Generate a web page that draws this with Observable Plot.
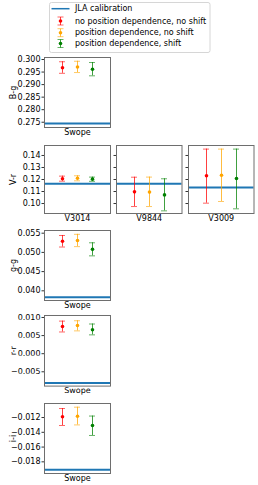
<!DOCTYPE html>
<html>
<head>
<meta charset="utf-8">
<script src="https://cdn.jsdelivr.net/npm/d3@7"></script>
<script src="https://cdn.jsdelivr.net/npm/@observablehq/plot@0.6"></script>
<style>
  html, body { margin: 0; padding: 0; background: white; }
  #root { position: relative; width: 258px; height: 485px; overflow: hidden; font-family: "DejaVu Sans", sans-serif; }
  #root svg { position: absolute; overflow: visible; }
</style>
</head>
<body>
<div id="root"></div>
<script>
// ---------- data ----------
const seriesNames = ["no position dependence, no shift", "position dependence, no shift", "position dependence, shift"];
const seriesColors = ["red", "orange", "green"];
const jlaLabel = "JLA calibration";

const colorLabels = ["B-g", "V-r", "V-r", "V-r", "g-g", "r-r", "i-i"];
const telescopes  = ["Swope", "V3014", "V9844", "V3009", "Swope", "Swope", "Swope"];
const jla = [0.2745, 0.1164, 0.1164, 0.1133, 0.03835, -0.00812, -0.01908];

const centerRed    = [0.2967, 0.1206, 0.1097, 0.1231, 0.0529, 0.00752, -0.01190];
const lowRed       = [0.2945, 0.1186, 0.0975, 0.1003, 0.0514, 0.00600, -0.01308];
const highRed      = [0.2991, 0.1228, 0.1219, 0.1453, 0.0544, 0.00900, -0.01078];
const centerOrange = [0.2970, 0.1210, 0.1095, 0.1235, 0.0531, 0.00780, -0.01182];
const lowOrange    = [0.2948, 0.1189, 0.0975, 0.1017, 0.0515, 0.00630, -0.01300];
const highOrange   = [0.2993, 0.1231, 0.1220, 0.1453, 0.0547, 0.00910, -0.01060];
const centerGreen  = [0.2961, 0.1203, 0.1072, 0.1208, 0.0508, 0.00660, -0.01308];
const lowGreen     = [0.2935, 0.1185, 0.0939, 0.0956, 0.0491, 0.00520, -0.01443];
const highGreen    = [0.2988, 0.1220, 0.1206, 0.1453, 0.0525, 0.00820, -0.01180];

const ticksBg = [0.275, 0.280, 0.285, 0.290, 0.295, 0.300];
const ticksVr = [0.10, 0.11, 0.12, 0.13, 0.14];
const ticksGg = [0.040, 0.045, 0.050, 0.055];
const ticksRr = [-0.005, 0.000, 0.005, 0.010];
const ticksIi = [-0.018, -0.016, -0.014, -0.012];

// ---------- layout ----------
const centers = [centerRed, centerOrange, centerGreen];
const lows = [lowRed, lowOrange, lowGreen];
const highs = [highRed, highOrange, highGreen];

const panelLayout = [
  {left: 44,    top: 57,    w: 66,   h: 70,   domain: [0.2729, 0.3008],   ticks: ticksBg, fmt: ".3f", labels: true,  ylabel: true},
  {left: 44,    top: 144.7, w: 66,   h: 68,   domain: [0.0917, 0.1483],   ticks: ticksVr, fmt: ".2f", labels: true,  ylabel: true},
  {left: 116.3, top: 144.7, w: 65.5, h: 68,   domain: [0.0917, 0.1483],   ticks: ticksVr, fmt: ".2f", labels: false, ylabel: false},
  {left: 188,   top: 144.7, w: 65.5, h: 68,   domain: [0.0917, 0.1483],   ticks: ticksVr, fmt: ".2f", labels: false, ylabel: false},
  {left: 44,    top: 229.7, w: 66,   h: 70,   domain: [0.03748, 0.0557],  ticks: ticksGg, fmt: ".3f", labels: true,  ylabel: true},
  {left: 44,    top: 314.7, w: 66,   h: 70.6, domain: [-0.00895, 0.01055], ticks: ticksRr, fmt: ".3f", labels: true, ylabel: true},
  {left: 44,    top: 402.7, w: 66,   h: 70,   domain: [-0.01958, -0.0101], ticks: ticksIi, fmt: ".3f", labels: true, ylabel: true}
];

const root = document.getElementById("root");
const font = '"DejaVu Sans", sans-serif';

panelLayout.forEach((L, i) => {
  const mt = 10, mb = 16, ml = 44, mr = 4;
  const pts = [0, 1, 2].map(k => ({
    k: String(k), v: centers[k][i], lo: lows[k][i], hi: highs[k][i], c: seriesColors[k]
  }));
  const marks = [
    Plot.ruleY([jla[i]], {stroke: "#1f77b4", strokeWidth: 2}),
    Plot.ruleX(pts, {x: "k", y1: "lo", y2: "hi", stroke: "c", strokeOpacity: 0.75, strokeWidth: 1}),
    Plot.tickY(pts, {x: "k", y: "lo", stroke: "c", strokeOpacity: 0.6, strokeWidth: 1}),
    Plot.tickY(pts, {x: "k", y: "hi", stroke: "c", strokeOpacity: 0.6, strokeWidth: 1}),
    Plot.dot(pts, {x: "k", y: "v", fill: "c", r: 1.8}),
    Plot.axisY({
      ticks: L.ticks,
      tickFormat: L.labels ? d3.format(L.fmt) : () => "",
      tickSize: 2.5, tickPadding: 1.5, fontSize: 8, label: null, stroke: "#333"
    }),
    Plot.frame({stroke: "#6e6e6e", strokeWidth: 1}),
    Plot.text([telescopes[i]], {frameAnchor: "bottom", lineAnchor: "top", dy: 1.5, fontSize: 8, fill: "black"})
  ];
  if (L.ylabel) {
    marks.push(Plot.text([colorLabels[i]], {frameAnchor: "left", rotate: -90, dx: -31, fontSize: 8, fill: "black", textAnchor: "middle", lineAnchor: "middle"}));
  }
  const svg = Plot.plot({
    width: ml + L.w + mr,
    height: mt + L.h + mb,
    marginLeft: ml, marginRight: mr, marginTop: mt, marginBottom: mb,
    style: {fontFamily: font, fontSize: "8px", color: "black", background: "transparent", overflow: "visible"},
    x: {type: "band", domain: ["0", "1", "2"], paddingInner: 0.605, paddingOuter: 0.974, axis: null},
    y: {domain: L.domain, axis: null},
    color: {type: "identity"},
    marks
  });
  svg.style.left = (L.left - ml) + "px";
  svg.style.top = (L.top - mt) + "px";
  root.appendChild(svg);
});

// ---------- legend ----------
const leg = d3.create("svg").attr("width", 258).attr("height", 56)
  .style("left", "0px").style("top", "0px")
  .style("font-family", font).attr("font-size", 8);
leg.append("rect").attr("x", 49.5).attr("y", 2.5).attr("width", 160.5).attr("height", 50)
  .attr("rx", 2).attr("fill", "white").attr("stroke", "#d6d6d6").attr("stroke-width", 1);
const rowsY = [8.7, 21, 32.7, 43.5];
leg.append("line").attr("x1", 51.5).attr("x2", 69.5).attr("y1", rowsY[0]).attr("y2", rowsY[0])
  .attr("stroke", "#1f77b4").attr("stroke-width", 1.5);
leg.append("text").attr("x", 75).attr("y", rowsY[0]).attr("dominant-baseline", "central").text(jlaLabel);
seriesNames.forEach((name, k) => {
  const y = rowsY[k + 1], x = 60.5, c = seriesColors[k];
  const g = leg.append("g");
  g.append("line").attr("x1", x).attr("x2", x).attr("y1", y - 4).attr("y2", y + 4).attr("stroke", c).attr("stroke-opacity", 0.75);
  g.append("line").attr("x1", x - 3).attr("x2", x + 3).attr("y1", y - 4).attr("y2", y - 4).attr("stroke", c).attr("stroke-opacity", 0.6);
  g.append("line").attr("x1", x - 3).attr("x2", x + 3).attr("y1", y + 4).attr("y2", y + 4).attr("stroke", c).attr("stroke-opacity", 0.6);
  g.append("circle").attr("cx", x).attr("cy", y).attr("r", 1.8).attr("fill", c);
  leg.append("text").attr("x", 75).attr("y", y).attr("dominant-baseline", "central").text(name);
});
root.appendChild(leg.node());
</script>
</body>
</html>
